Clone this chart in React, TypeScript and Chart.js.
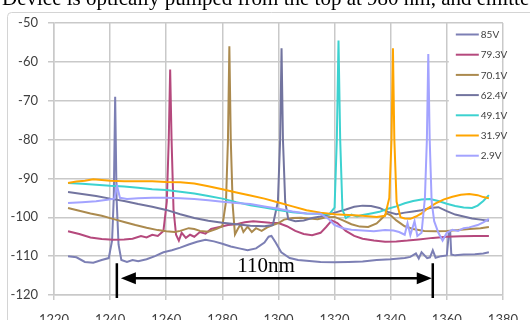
import React, { useEffect, useRef } from "react";
import { Chart, registerables } from "chart.js";

Chart.register(...registerables);

const seriesNames = ["85V", "79.3V", "70.1V", "62.4V", "49.1V", "31.9V", "2.9V"];
const seriesColors = ["#7c7fb4", "#b5497d", "#ab8a4e", "#72749f", "#3cd2d0", "#ffa500", "#a3a3ff"];

const xTicks = [1220, 1240, 1260, 1280, 1300, 1320, 1340, 1360, 1380];
const yTicks = [-120, -110, -100, -90, -80, -70, -60, -50];

const s85: [number, number][] = [
  [1225, -110], [1228, -110.3], [1231, -111.5], [1234, -111.7], [1237, -111], [1239.5, -110.5],
  [1240.7, -106], [1241.3, -95], [1241.8, -69], [1242.3, -95], [1243, -107], [1244, -111],
  [1246, -111.5], [1248, -111], [1250, -111.3], [1253, -110.8], [1256, -110], [1259, -109],
  [1262, -108.5], [1265, -107.8], [1268, -107], [1271, -106.3], [1274, -105.8], [1277, -106.2],
  [1280, -106.8], [1283, -107.5], [1286, -108], [1289, -108.5], [1292, -108], [1295, -106.5],
  [1296.5, -105], [1297.5, -104.8], [1299, -106.5], [1301, -109], [1304, -110.5], [1307, -111],
  [1310, -111.2], [1315, -111.5], [1320, -111.6], [1325, -111.5], [1330, -111.4], [1335, -111],
  [1340, -110.8], [1345, -110.5], [1347, -110.2], [1349, -109.3], [1350, -110.6], [1351, -109],
  [1353, -110.5], [1354, -110.3], [1355, -108.5], [1356, -110.4], [1358, -110], [1360, -109.8],
  [1360.8, -103.5], [1361.2, -103.5], [1361.6, -109.6], [1363, -109.8], [1366, -109.6],
  [1370, -109.5], [1373, -109.3], [1375, -109],
];

const s79: [number, number][] = [
  [1225, -103.6], [1229, -104.3], [1233, -105.2], [1237, -105.6], [1241, -105.8], [1245, -105.7],
  [1248, -105.5], [1251, -104.8], [1253, -105.2], [1255, -104.5], [1257, -104.8], [1259, -103.5],
  [1260.2, -96], [1260.9, -80], [1261.4, -62], [1261.9, -80], [1262.6, -98], [1263.5, -104.5],
  [1264.5, -106], [1265.5, -104], [1267, -105.3], [1268.5, -104.5], [1270, -105], [1272, -103.8],
  [1274, -104.2], [1276, -103], [1279, -102.5], [1282, -102], [1285, -101.8], [1288, -101.3],
  [1291, -101], [1294, -101.2], [1297, -101.4], [1300, -101.5], [1303, -102.3], [1306, -103.5],
  [1309, -104.3], [1312, -104.6], [1315, -104], [1317, -102.5], [1319, -100.8], [1321, -101.5],
  [1324, -103.5], [1327, -104.8], [1330, -105.5], [1334, -106], [1338, -106.3], [1342, -106.2],
  [1346, -106], [1350, -105.7], [1355, -105.3], [1360, -105], [1365, -104.9], [1370, -104.8],
  [1375, -104.8],
];

const s70: [number, number][] = [
  [1225, -97.6], [1229, -98.3], [1233, -99], [1237, -99.6], [1241, -100.4], [1245, -101.2],
  [1249, -102], [1253, -102.7], [1257, -103.3], [1260, -103.6], [1263, -103.8], [1265, -103.5],
  [1268, -102.8], [1270, -103], [1272, -103.5], [1275, -103.7], [1278, -103], [1280, -102.3],
  [1281.3, -96], [1282, -80], [1282.5, -56], [1283, -80], [1283.7, -97], [1284.5, -104.4],
  [1285.5, -103], [1286.5, -101.8], [1287.5, -103.8], [1289, -102.4], [1290.5, -103.8],
  [1292, -102.8], [1294, -103.5], [1296, -102.6], [1298, -102], [1300, -101.5], [1302, -100.6],
  [1305, -100.2], [1308, -100.1], [1311, -100.3], [1314, -100.5], [1317, -100], [1320, -99.9],
  [1323, -100.8], [1326, -101.8], [1329, -102.4], [1332, -102.5], [1335, -101.6], [1337, -100.2],
  [1338.5, -99], [1340, -99.5], [1342, -100.8], [1345, -102.3], [1348, -103], [1352, -103.5],
  [1356, -103.6], [1360, -103.5], [1364, -103.3], [1368, -103], [1372, -102.8], [1375, -102.5],
];

const s62: [number, number][] = [
  [1225, -93.5], [1230, -94], [1235, -94.5], [1240, -95.2], [1245, -95.8], [1250, -96.6],
  [1255, -97.3], [1260, -98.1], [1265, -99.2], [1270, -100.2], [1275, -100.9], [1280, -101.4],
  [1285, -101.8], [1290, -102.2], [1295, -102.3], [1298, -102], [1299.8, -96], [1300.6, -80],
  [1301.1, -56.5], [1301.6, -80], [1302.4, -96], [1303.5, -100.5], [1306, -101], [1309, -100.8],
  [1312, -100.2], [1315, -99.8], [1318, -99.3], [1321, -98.6], [1324, -98], [1327, -97.3],
  [1330, -97], [1333, -97.1], [1336, -97.6], [1339, -98.6], [1342, -99.2], [1345, -98.8],
  [1348, -98.5], [1351, -98.2], [1354, -97.6], [1357, -97.4], [1360, -98.4], [1363, -99.3],
  [1366, -99.8], [1369, -100.3], [1372, -100.6], [1375, -100.9],
];

const s49: [number, number][] = [
  [1225, -91.2], [1230, -91.4], [1235, -91.6], [1240, -91.9], [1245, -92.1], [1250, -92.4],
  [1255, -92.8], [1260, -93], [1265, -93.4], [1270, -93.9], [1275, -94.5], [1280, -95.2],
  [1285, -96.1], [1290, -96.9], [1295, -97.5], [1300, -98.1], [1305, -98.7], [1310, -99],
  [1315, -99.1], [1318, -99.3], [1320, -97.5], [1320.8, -80], [1321.4, -54.5], [1322, -80],
  [1322.8, -98], [1324, -100.2], [1326, -99.3], [1328, -99.8], [1330, -99.4], [1333, -99],
  [1336, -98.6], [1339, -97.8], [1342, -97.2], [1345, -96.4], [1348, -95.8], [1351, -95.4],
  [1354, -95.3], [1357, -95.8], [1360, -96.5], [1363, -97.1], [1366, -97.5], [1369, -97.6],
  [1371, -97], [1373, -95.8], [1375, -94.3],
];

const s31: [number, number][] = [
  [1225, -91.2], [1228, -90.8], [1231, -90.6], [1234, -90.2], [1237, -90.4], [1240, -90.6],
  [1245, -90.7], [1250, -90.7], [1255, -90.7], [1260, -90.9], [1265, -91], [1270, -91.3],
  [1275, -92], [1280, -92.8], [1285, -93.6], [1290, -94.4], [1295, -95.2], [1300, -96.2],
  [1305, -97.2], [1310, -98.2], [1315, -98.8], [1320, -99.2], [1325, -99.4], [1330, -99.6],
  [1335, -99.9], [1338, -99.6], [1339.5, -95], [1340.3, -80], [1340.8, -56.5], [1341.3, -80],
  [1342.1, -96], [1343.5, -100], [1345, -100.3], [1347, -100.4], [1349, -99.8], [1351, -99],
  [1353, -97.8], [1356, -96.4], [1359, -95.4], [1362, -94.7], [1365, -94.2], [1368, -94],
  [1371, -94.3], [1373, -94.8], [1375, -95.1],
];

const s29: [number, number][] = [
  [1225, -96.3], [1230, -96.1], [1235, -95.9], [1239, -95.5], [1241.5, -95.2], [1242.5, -92],
  [1243.5, -95], [1246, -95.3], [1250, -95.1], [1255, -95], [1260, -95], [1265, -95.1],
  [1270, -95.3], [1275, -95.6], [1280, -96], [1285, -96.3], [1290, -96.6], [1295, -97.2],
  [1300, -97.8], [1305, -98.5], [1310, -99], [1315, -99.1], [1318, -100.5], [1320, -102],
  [1323, -102.8], [1326, -103.2], [1330, -103.4], [1334, -103.6], [1338, -103.3], [1341, -103.4],
  [1343, -103.8], [1345, -104.5], [1346, -101.5], [1347, -104.6], [1348.5, -101], [1349.5, -104.8],
  [1351, -104], [1352.2, -95], [1352.9, -80], [1353.4, -58], [1353.9, -80], [1354.6, -96],
  [1355.5, -101], [1357, -104], [1358.5, -106], [1360, -104], [1362, -103.2], [1364, -103.5],
  [1366, -102.8], [1368, -102.6], [1371, -102], [1373, -101.3], [1375, -100.4],
];

const seriesData = [s85, s79, s70, s62, s49, s31, s29];

const captionText = "Device is optically pumped from the top at 980 nm, and emitted";
const spanLabel = "110nm";
const spanStart = 1242.4;
const spanEnd = 1355;

const TICK_FONT = { family: "Lato", size: 13 };
const GRID = "#c9c9c9";

const overlayPlugin = {
  id: "overlay",
  beforeDraw(chart: any) {
    const ctx = chart.ctx;
    ctx.save();
    ctx.fillStyle = "#ffffff";
    ctx.fillRect(0, 0, chart.width, chart.height);
    ctx.strokeStyle = "#d4d4d4";
    ctx.lineWidth = 1;
    ctx.beginPath();
    const l = 7.5, t = 12.5, r = 4;
    ctx.moveTo(l, chart.height + 10);
    ctx.lineTo(l, t + r);
    ctx.quadraticCurveTo(l, t, l + r, t);
    ctx.lineTo(chart.width + 10, t);
    ctx.stroke();
    ctx.restore();
  },
  afterDatasetsDraw(chart: any) {
    const ctx = chart.ctx;
    const xs = chart.scales.x;
    const ys = chart.scales.y;
    ctx.save();
    // legend
    const lx = xs.getPixelForValue(1360) + 2;
    const rx = xs.getPixelForValue(1380) - 1;
    const top = ys.getPixelForValue(-50) + 2;
    const rowH = 20.2;
    ctx.fillStyle = "#ffffff";
    ctx.fillRect(lx, top, rx - lx, rowH * seriesNames.length + 2);
    ctx.font = '10px "Lato"';
    ctx.textBaseline = "middle";
    ctx.textAlign = "left";
    seriesNames.forEach((n, i) => {
      const cy = top + 9.5 + i * rowH;
      ctx.strokeStyle = seriesColors[i];
      ctx.lineWidth = 2;
      ctx.beginPath();
      ctx.moveTo(lx + 7, cy);
      ctx.lineTo(lx + 30, cy);
      ctx.stroke();
      ctx.fillStyle = "#404040";
      ctx.fillText(n, lx + 32, cy + 0.5);
    });
    // span annotation
    const x1 = xs.getPixelForValue(spanStart);
    const x2 = xs.getPixelForValue(spanEnd);
    const yb1 = ys.getPixelForValue(-111.8);
    const yb2 = ys.getPixelForValue(-120.8);
    const ya = ys.getPixelForValue(-115.7);
    ctx.strokeStyle = "#000000";
    ctx.fillStyle = "#000000";
    ctx.lineWidth = 2.5;
    ctx.beginPath();
    ctx.moveTo(x1, yb1);
    ctx.lineTo(x1, yb2);
    ctx.moveTo(x2, yb1);
    ctx.lineTo(x2, yb2);
    ctx.stroke();
    ctx.beginPath();
    ctx.moveTo(x1 + 14, ya);
    ctx.lineTo(x2 - 14, ya);
    ctx.stroke();
    ctx.beginPath();
    ctx.moveTo(x1 + 4, ya);
    ctx.lineTo(x1 + 19, ya - 6);
    ctx.lineTo(x1 + 19, ya + 6);
    ctx.closePath();
    ctx.fill();
    ctx.beginPath();
    ctx.moveTo(x2 - 1, ya);
    ctx.lineTo(x2 - 16, ya - 6);
    ctx.lineTo(x2 - 16, ya + 6);
    ctx.closePath();
    ctx.fill();
    ctx.font = '21px "Liberation Serif"';
    ctx.textAlign = "center";
    ctx.textBaseline = "alphabetic";
    ctx.fillText(spanLabel, xs.getPixelForValue(1295.6), ys.getPixelForValue(-114.1));
    ctx.restore();
  },
};

export default function App() {
  const ref = useRef<HTMLCanvasElement | null>(null);
  useEffect(() => {
    if (!ref.current) return;
    const n = seriesNames.length;
    const chart = new Chart(ref.current, {
      type: "line",
      data: {
        datasets: seriesData.map((d, i) => ({
          label: seriesNames[i],
          data: d.map(([x, y]) => ({ x, y })),
          borderColor: seriesColors[i],
          backgroundColor: seriesColors[i],
          borderWidth: 2,
          pointRadius: 0,
          tension: 0,
          fill: false,
          order: n - i,
        })),
      },
      options: {
        responsive: false,
        animation: false,
        devicePixelRatio: 1,
        layout: { padding: { top: 23, right: 22, left: 0, bottom: 0 } },
        plugins: { legend: { display: false }, tooltip: { enabled: false } },
        scales: {
          x: {
            type: "linear",
            min: 1220,
            max: 1380,
            afterBuildTicks: (s: any) => {
              s.ticks = xTicks.map((v) => ({ value: v }));
            },
            afterFit: (s: any) => {
              s.height = 25;
            },
            ticks: {
              font: TICK_FONT,
              color: "#404040",
              padding: 12,
              maxRotation: 0,
              autoSkip: false,
              callback: (v: any) => String(v),
            },
            grid: { color: GRID, lineWidth: 1.5, tickLength: 5, tickColor: GRID },
            border: { color: GRID, width: 1.5 },
          },
          y: {
            min: -120,
            max: -50,
            afterBuildTicks: (s: any) => {
              s.ticks = yTicks.map((v) => ({ value: v }));
            },
            afterFit: (s: any) => {
              s.width = 54;
            },
            ticks: { font: TICK_FONT, color: "#404040", padding: 10, autoSkip: false, callback: (v: any) => String(v) },
            grid: { color: GRID, lineWidth: 1.5, tickLength: 6, tickColor: GRID },
            border: { color: GRID, width: 1.5 },
          },
        },
      },
      plugins: [overlayPlugin],
    });
    return () => chart.destroy();
  }, []);

  return (
    <div style={{ position: "fixed", left: 0, top: 0, width: 530, height: 320, overflow: "hidden", background: "#fff" }}>
      <canvas ref={ref} width={530} height={320} style={{ position: "absolute", left: 0, top: 0, width: 530, height: 320 }} />
      <div
        style={{
          position: "absolute",
          left: 2,
          top: -13,
          fontFamily: '"Liberation Serif", serif',
          fontSize: 21,
          lineHeight: "22px",
          whiteSpace: "nowrap",
          color: "#000",
        }}
      >
        {captionText}
      </div>
    </div>
  );
}
